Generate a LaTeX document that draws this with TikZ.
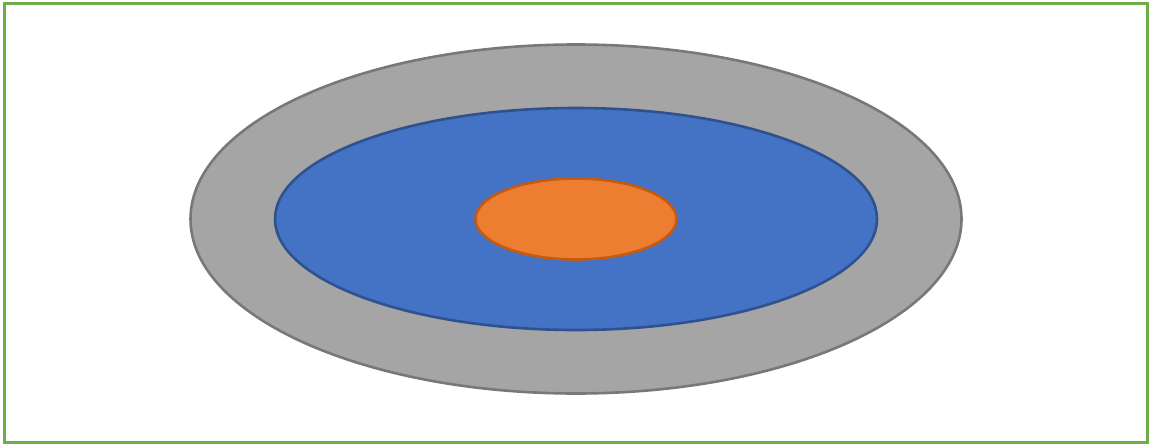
\documentclass[tikz,border=0pt]{standalone}
\usepackage{tikz}

\definecolor{frameGreen}{HTML}{70AD47}
\definecolor{outerFill}{HTML}{A5A5A5}
\definecolor{outerLine}{HTML}{787878}
\definecolor{midFill}{HTML}{4472C4}
\definecolor{midLine}{HTML}{2F528F}
\definecolor{innerFill}{HTML}{ED7D31}
\definecolor{innerLine}{HTML}{C55A11}

\begin{document}
\begin{tikzpicture}[x=1pt, y=-1pt,
    % Define the style for the rings
    ring/.style={line width=2.6pt}
]

\useasboundingbox (0,0) rectangle (1150,444);

% Define the corners of the frame and the centre
\coordinate (TL) at (4,4);
\coordinate (BR) at (1147.5,442);
\coordinate (C) at (576,219);

% Draw the frame
\draw[frameGreen, line width=3pt] (TL) rectangle (BR);

% Draw the rings from the outside in
\draw[ring, fill=outerFill, draw=outerLine] (C) ellipse [x radius=385.5, y radius=174.5];
\draw[ring, fill=midFill, draw=midLine] (C) ellipse [x radius=301, y radius=111];
\draw[ring, fill=innerFill, draw=innerLine] (C) ellipse [x radius=100.5, y radius=40.5];

\end{tikzpicture}
\end{document}
